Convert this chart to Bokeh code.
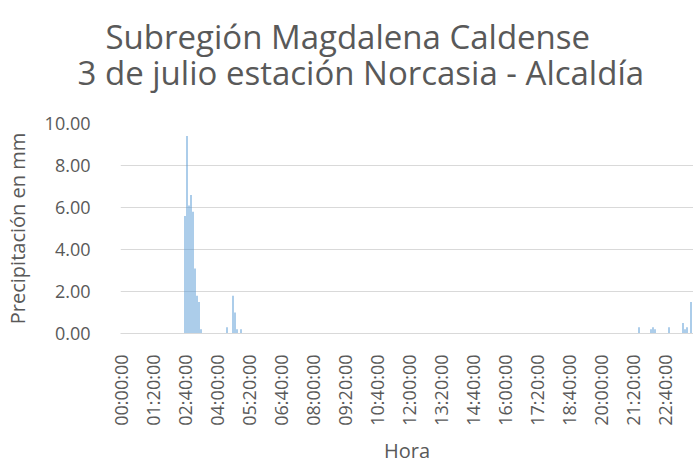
import math
from bokeh.plotting import figure
from bokeh.models import Range1d, FixedTicker, Title, ColumnDataSource
from bokeh.embed import file_html
from bokeh.resources import INLINE

# 5-minute intervals of the day (category labels)
times = ["%02d:%02d:00" % (h, m) for h in range(24) for m in range(0, 60, 5)]

# Non-zero precipitation readings (mm)
rain_times = ["02:40:00", "02:45:00", "02:50:00", "02:55:00", "03:00:00",
              "03:05:00", "03:10:00", "03:15:00", "03:20:00",
              "04:25:00", "04:40:00", "04:45:00", "04:50:00", "05:00:00",
              "21:35:00", "22:05:00", "22:10:00", "22:15:00", "22:50:00",
              "23:25:00", "23:30:00", "23:35:00", "23:45:00"]
rain_mm = [5.6, 9.4, 6.1, 6.6, 5.8,
           3.1, 1.8, 1.5, 0.2,
           0.3, 1.8, 1.0, 0.2, 0.2,
           0.3, 0.2, 0.3, 0.2, 0.3,
           0.5, 0.2, 0.3, 1.5]

y_ticks = [0, 2, 4, 6, 8, 10]
x_tick_every = 16  # label every 80 minutes

title_1 = "Subregión Magdalena Caldense"
title_2 = "3 de julio estación Norcasia - Alcaldía"

values = dict(zip(rain_times, rain_mm))
source = ColumnDataSource(dict(
    x=list(range(len(times))),
    top=[values.get(t, 0.0) for t in times],
))

TXT = "#595959"
FONT = "Open Sans"
FRAME_W, FRAME_H = 573, 210

p = figure(frame_width=FRAME_W, frame_height=FRAME_H, output_backend="svg",
           toolbar_location=None,
           x_range=Range1d(-0.25, 286.25), y_range=Range1d(0, 10),
           min_border_left=113, min_border_right=0, min_border_top=123,
           min_border_bottom=0)
p.outline_line_color = None
p.background_fill_color = "white"
p.border_fill_color = "white"

p.vbar(x="x", top="top", width=0.5, source=source,
       fill_color="#5B9BD5", line_color=None)

p.xaxis.ticker = FixedTicker(ticks=list(range(0, len(times), x_tick_every)))
p.xaxis.major_label_overrides = {i: times[i] for i in range(0, len(times), x_tick_every)}
p.xaxis.major_label_orientation = math.pi / 2
p.xaxis.axis_label = "Hora"
p.yaxis.ticker = FixedTicker(ticks=y_ticks)
p.yaxis.major_label_overrides = {v: "%.2f" % v for v in y_ticks}
p.yaxis.axis_label = "Precipitación en mm"

for ax in (p.xaxis[0], p.yaxis[0]):
    ax.major_tick_line_color = None
    ax.minor_tick_line_color = None
    ax.major_label_text_font = FONT
    ax.major_label_text_font_size = "18px"
    ax.major_label_text_color = TXT
    ax.axis_label_text_font = FONT
    ax.axis_label_text_font_size = "20px"
    ax.axis_label_text_font_style = "normal"
    ax.axis_label_text_color = TXT
p.yaxis.axis_line_color = None
p.xaxis.axis_line_color = "#D9D9D9"
p.xaxis.major_label_standoff = 15
p.yaxis.major_label_standoff = 24
p.xaxis.axis_label_standoff = 8
p.yaxis.axis_label_standoff = 11

p.xgrid.grid_line_color = None
p.ygrid.grid_line_color = "#D9D9D9"
p.ygrid.grid_line_width = 1

# two-line title (second line added first: it sits closest to the plot)
p.add_layout(Title(text=title_2, align="left", offset=-43, standoff=57,
                   text_font=FONT, text_font_size="33px",
                   text_font_style="normal", text_color=TXT), "above")
p.add_layout(Title(text=title_1, align="left", offset=-15, standoff=-79,
                   text_font=FONT, text_font_size="33px",
                   text_font_style="normal", text_color=TXT), "above")

open("out.html", "w").write(file_html(p, INLINE))
